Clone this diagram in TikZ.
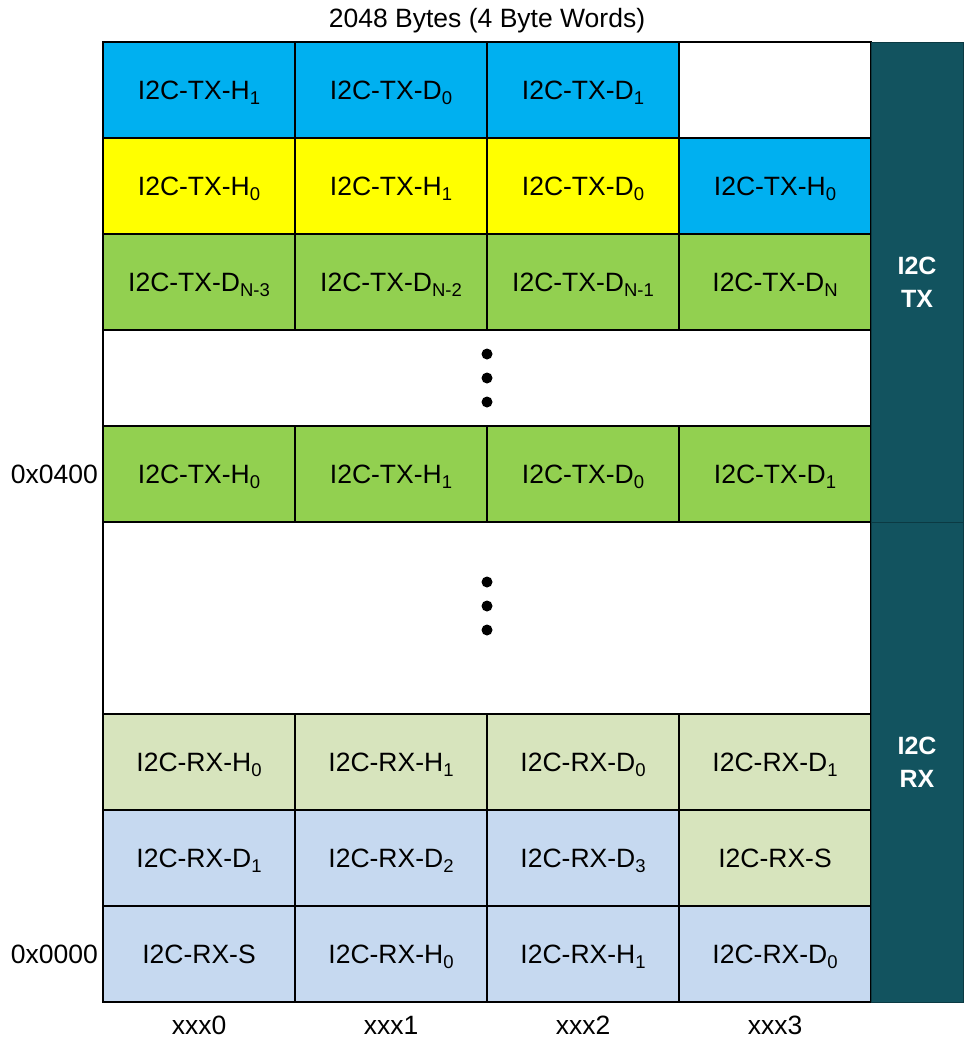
\documentclass[tikz,border=0pt]{standalone}
\usepackage{fontspec}
\setmainfont{Liberation Sans}
\definecolor{cblue}{HTML}{00B0F0}
\definecolor{cyellow}{HTML}{FFFF00}
\definecolor{cgreen}{HTML}{92D050}
\definecolor{clgreen}{HTML}{D7E4BD}
\definecolor{clblue}{HTML}{C6D9F0}
\definecolor{cbar}{HTML}{12535F}
\definecolor{cbarline}{HTML}{0B3A43}
\newcommand\sbx[1]{\raisebox{-4.5pt}{\fontsize{18.5}{19}\selectfont #1}}
\begin{document}
\begin{tikzpicture}[x=1pt,y=-1pt,
  txt/.style={font=\fontsize{26.5}{31}\selectfont, inner sep=0pt, text height=19pt, text depth=0pt},
  cell/.style={txt, draw=black, line width=1.8pt, minimum width=192pt, minimum height=96pt, anchor=center},
  wide/.style={draw=black, line width=1.8pt, fill=white, minimum width=768pt, inner sep=0pt},
  bar/.style={fill=cbar, draw=cbarline, line width=0.8pt, minimum width=92pt, minimum height=480pt, inner sep=0pt, text=white, font=\fontsize{25}{33}\selectfont\bfseries, align=center},
  dot/.style={circle, fill=black, minimum size=11pt, inner sep=0pt}
]
\useasboundingbox (0,0) rectangle (964,1039);
\fill[white] (0,0) rectangle (964,1039);

\node[txt] (title) at (487,18) {2048 Bytes (4 Byte Words)};

% row 1
\node[cell, fill=cblue] (r1c1) at (199,90) {I2C-TX-H\sbx{1}};
\node[cell, fill=cblue] (r1c2) at (391,90) {I2C-TX-D\sbx{0}};
\node[cell, fill=cblue] (r1c3) at (583,90) {I2C-TX-D\sbx{1}};
\node[cell, fill=white] (r1c4) at (775,90) {};
% row 2
\node[cell, fill=cyellow] (r2c1) at (199,186) {I2C-TX-H\sbx{0}};
\node[cell, fill=cyellow] (r2c2) at (391,186) {I2C-TX-H\sbx{1}};
\node[cell, fill=cyellow] (r2c3) at (583,186) {I2C-TX-D\sbx{0}};
\node[cell, fill=cblue] (r2c4) at (775,186) {I2C-TX-H\sbx{0}};
% row 3
\node[cell, fill=cgreen] (r3c1) at (199,282) {I2C-TX-D\sbx{N-3}};
\node[cell, fill=cgreen] (r3c2) at (391,282) {I2C-TX-D\sbx{N-2}};
\node[cell, fill=cgreen] (r3c3) at (583,282) {I2C-TX-D\sbx{N-1}};
\node[cell, fill=cgreen] (r3c4) at (775,282) {I2C-TX-D\sbx{N}};
% blank row
\node[wide, minimum height=96pt] (gap1) at (487,378) {};
\node[dot] (d1a) at (487,354) {};
\node[dot] (d1b) at (487,378) {};
\node[dot] (d1c) at (487,402) {};
% row 5
\node[cell, fill=cgreen] (r5c1) at (199,474) {I2C-TX-H\sbx{0}};
\node[cell, fill=cgreen] (r5c2) at (391,474) {I2C-TX-H\sbx{1}};
\node[cell, fill=cgreen] (r5c3) at (583,474) {I2C-TX-D\sbx{0}};
\node[cell, fill=cgreen] (r5c4) at (775,474) {I2C-TX-D\sbx{1}};
% big blank
\node[wide, minimum height=192pt] (gap2) at (487,618) {};
\node[dot] (d2a) at (487,582) {};
\node[dot] (d2b) at (487,606) {};
\node[dot] (d2c) at (487,630) {};
% RX rows
\node[cell, fill=clgreen] (r7c1) at (199,762) {I2C-RX-H\sbx{0}};
\node[cell, fill=clgreen] (r7c2) at (391,762) {I2C-RX-H\sbx{1}};
\node[cell, fill=clgreen] (r7c3) at (583,762) {I2C-RX-D\sbx{0}};
\node[cell, fill=clgreen] (r7c4) at (775,762) {I2C-RX-D\sbx{1}};
\node[cell, fill=clblue] (r8c1) at (199,858) {I2C-RX-D\sbx{1}};
\node[cell, fill=clblue] (r8c2) at (391,858) {I2C-RX-D\sbx{2}};
\node[cell, fill=clblue] (r8c3) at (583,858) {I2C-RX-D\sbx{3}};
\node[cell, fill=clgreen] (r8c4) at (775,858) {I2C-RX-S};
\node[cell, fill=clblue] (r9c1) at (199,954) {I2C-RX-S};
\node[cell, fill=clblue] (r9c2) at (391,954) {I2C-RX-H\sbx{0}};
\node[cell, fill=clblue] (r9c3) at (583,954) {I2C-RX-H\sbx{1}};
\node[cell, fill=clblue] (r9c4) at (775,954) {I2C-RX-D\sbx{0}};

% side bars
\node[bar] (txbar) at (917,282) {I2C\\TX};
\node[bar] (rxbar) at (917,762) {I2C\\RX};

% address labels
\node[txt, anchor=east] (a400) at (98,474) {0x0400};
\node[txt, anchor=east] (a000) at (98,954) {0x0000};

% column labels
\node[txt] (x0) at (199,1025) {xxx0};
\node[txt] (x1) at (391,1025) {xxx1};
\node[txt] (x2) at (583,1025) {xxx2};
\node[txt] (x3) at (775,1025) {xxx3};
\end{tikzpicture}
\end{document}
